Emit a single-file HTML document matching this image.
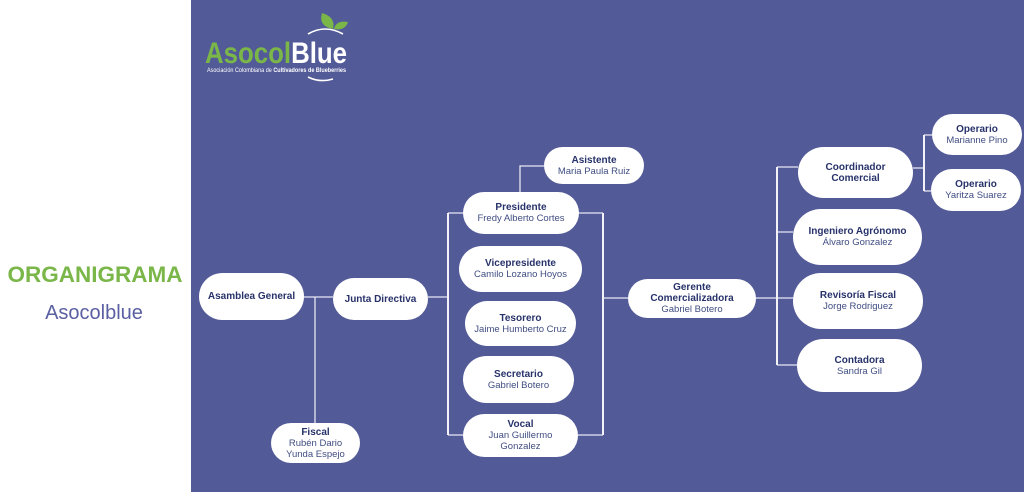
<!DOCTYPE html>
<html><head><meta charset="utf-8"><style>
html,body{margin:0;padding:0}
body{width:1024px;height:492px;position:relative;overflow:hidden;background:#fff;font-family:"Liberation Sans",Arial,sans-serif}
#panel{position:absolute;left:191px;top:0;width:833px;height:492px;background:#535a98}
.n{position:absolute;background:#fff;border-radius:30px;display:flex;flex-direction:column;align-items:center;justify-content:center;text-align:center;line-height:11px}
.t{font-weight:bold;font-size:10px;color:#27326a}
.s{font-size:9.5px;color:#404d82}
svg{position:absolute;left:0;top:0}
</style></head><body>
<div id="panel"></div>
<div style="position:absolute;left:0;top:262px;width:190px;text-align:center;font-weight:bold;font-size:22.5px;color:#7ab648;letter-spacing:0px">ORGANIGRAMA</div>
<div style="position:absolute;left:0;top:302px;width:188px;text-align:center;font-size:20px;color:#5a5fa2">Asocolblue</div>

<svg width="1024" height="492" viewBox="0 0 1024 492">
 <!-- logo -->
 <path d="M308 34 Q325 24 343 34" stroke="#fff" stroke-width="1.6" fill="none"/>
 <path d="M308 77 Q320 83 333 79" stroke="#fff" stroke-width="1.6" fill="none"/>
 <path d="M333 29 Q318 26 322 13 Q336 17 333 29 Z" fill="#7ab648"/>
 <path d="M334 29 Q336 20 348 22 Q345 31 334 29 Z" fill="#7ab648"/>
 <text x="205" y="63" font-family="Liberation Sans" font-weight="bold" font-size="30" textLength="142" lengthAdjust="spacingAndGlyphs"><tspan fill="#7ab648">Asocol</tspan><tspan fill="#fff">Blue</tspan></text>
 <text x="207" y="72" font-family="Liberation Sans" font-size="6" fill="#fff" textLength="139" lengthAdjust="spacingAndGlyphs">Asociación Colombiana de <tspan font-weight="bold">Cultivadores de Blueberries</tspan></text>
 <g stroke="#e6e6f2" stroke-width="1.3" fill="none">
  <path d="M304 297H333M315 297V423M428 297H448"/>
  <path d="M448 213H463M579 213H603M448 435H463M578 435H603"/>
  <path d="M520 192V166H544"/>
  <path d="M603 298H628M756 298H777"/>
  <path d="M777 167H798M777 232H793M777 298H793M777 365H797"/>
  <path d="M913 168H924M924 135H932M924 191H931"/>
 </g>
 <g stroke="#f2f2f8" stroke-width="2" fill="none">
  <path d="M448 213V435M603 213V435M777 167V365M924 135V191"/>
 </g>
</svg>

<div class="n" style="left:199px;top:273px;width:105px;height:47px"><div class="t">Asamblea General</div></div>
<div class="n" style="left:333px;top:278px;width:95px;height:42px"><div class="t">Junta Directiva</div></div>
<div class="n" style="left:271px;top:423px;width:89px;height:40px"><div class="t">Fiscal</div><div class="s">Rubén Dario</div><div class="s">Yunda Espejo</div></div>

<div class="n" style="left:544px;top:147px;width:100px;height:37px"><div class="t">Asistente</div><div class="s">Maria Paula Ruiz</div></div>
<div class="n" style="left:463px;top:192px;width:116px;height:42px"><div class="t">Presidente</div><div class="s">Fredy Alberto Cortes</div></div>
<div class="n" style="left:459px;top:246px;width:123px;height:46px"><div class="t">Vicepresidente</div><div class="s">Camilo Lozano Hoyos</div></div>
<div class="n" style="left:465px;top:301px;width:111px;height:45px"><div class="t">Tesorero</div><div class="s">Jaime Humberto Cruz</div></div>
<div class="n" style="left:463px;top:356px;width:111px;height:47px"><div class="t">Secretario</div><div class="s">Gabriel Botero</div></div>
<div class="n" style="left:463px;top:414px;width:115px;height:43px"><div class="t">Vocal</div><div class="s">Juan Guillermo</div><div class="s">Gonzalez</div></div>

<div class="n" style="left:628px;top:279px;width:128px;height:39px"><div class="t">Gerente</div><div class="t">Comercializadora</div><div class="s">Gabriel Botero</div></div>

<div class="n" style="left:798px;top:147px;width:115px;height:51px"><div class="t">Coordinador</div><div class="t">Comercial</div></div>
<div class="n" style="left:932px;top:114px;width:90px;height:41px"><div class="t">Operario</div><div class="s">Marianne Pino</div></div>
<div class="n" style="left:931px;top:169px;width:90px;height:42px"><div class="t">Operario</div><div class="s">Yaritza Suarez</div></div>
<div class="n" style="left:793px;top:209px;width:129px;height:56px"><div class="t">Ingeniero Agrónomo</div><div class="s">Álvaro Gonzalez</div></div>
<div class="n" style="left:793px;top:273px;width:130px;height:56px"><div class="t">Revisoría Fiscal</div><div class="s">Jorge Rodriguez</div></div>
<div class="n" style="left:797px;top:339px;width:125px;height:53px"><div class="t">Contadora</div><div class="s">Sandra Gil</div></div>
</body></html>
